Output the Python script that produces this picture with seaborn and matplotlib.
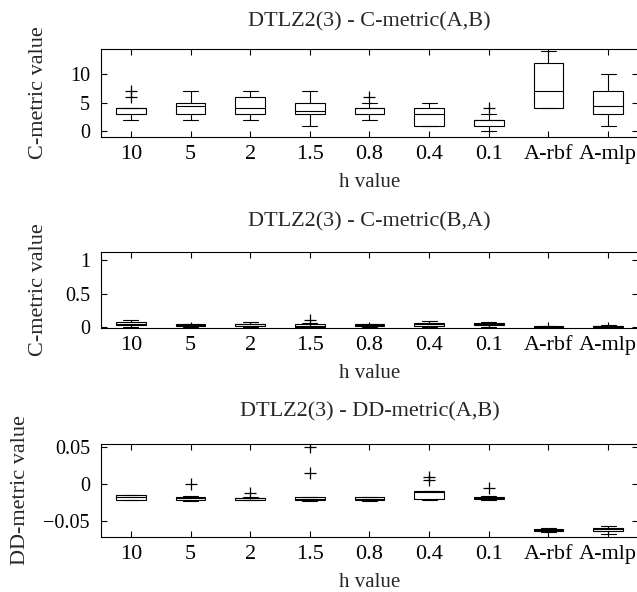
import numpy as np
import pandas as pd
import matplotlib
matplotlib.use("Agg")
import matplotlib.pyplot as plt
import seaborn as sns

# ---- data ----
h_labels = ["10", "5", "2", "1.5", "0.8", "0.4", "0.1", "A-rbf", "A-mlp"]

# Panel 1: C-metric(A,B)
cab_lo  = [2, 2, 2, 1, 2, 1, 0, 4, 1]
cab_q1  = [3, 3, 3, 3, 3, 1, 1, 4, 3]
cab_med = [4, 4.5, 4, 3.5, 4, 3, 2, 7, 4.5]
cab_q3  = [4, 5, 6, 5, 4, 4, 2, 12, 7]
cab_hi  = [4, 7, 7, 7, 5, 5, 3, 14, 10]
cab_out = [[6, 7], [], [], [], [6], [], [4], [], []]

# Panel 2: C-metric(B,A)
cba_lo  = [0, 0, 0, 0, 0, 0, 0, 0, 0]
cba_q1  = [0.03, 0.02, 0.02, 0.0, 0.01, 0.02, 0.03, 0.0, 0.0]
cba_med = [0.05, 0.03, 0.04, 0.02, 0.03, 0.04, 0.05, 0.005, 0.01]
cba_q3  = [0.07, 0.04, 0.05, 0.04, 0.04, 0.06, 0.06, 0.01, 0.02]
cba_hi  = [0.10, 0.05, 0.07, 0.06, 0.05, 0.09, 0.07, 0.02, 0.03]
cba_out = [[], [], [], [0.11], [], [], [], [], []]

# Panel 3: DD-metric(A,B)
dd_lo  = [-0.021, -0.023, -0.022, -0.023, -0.023, -0.021, -0.021, -0.065, -0.067]
dd_q1  = [-0.021, -0.022, -0.021, -0.022, -0.022, -0.020, -0.0205, -0.064, -0.063]
dd_med = [-0.018, -0.019, -0.019, -0.020, -0.020, -0.011, -0.019, -0.062, -0.061]
dd_q3  = [-0.015, -0.0175, -0.0185, -0.018, -0.018, -0.010, -0.0175, -0.061, -0.059]
dd_hi  = [-0.015, -0.016, -0.017, -0.017, -0.017, -0.010, -0.016, -0.060, -0.057]
dd_out = [[], [0.0], [-0.012], [0.015, 0.05], [], [0.006, 0.009], [-0.006], [], []]


def build_frame(lo, q1, med, q3, hi, outs):
    rows = []
    for cat, a, b, c, d, e, o in zip(h_labels, lo, q1, med, q3, hi, outs):
        vals = [a] + [b] * 10 + [c] * 10 + [d] * 10 + [e] + list(o)
        rows += [(cat, v) for v in vals]
    return pd.DataFrame(rows, columns=["h", "value"])


panels = [
    dict(df=build_frame(cab_lo, cab_q1, cab_med, cab_q3, cab_hi, cab_out),
         title="DTLZ2(3) - C-metric(A,B)", ylabel="C-metric value",
         ylim=(-1.0, 14.4), yticks=[0, 5, 10], yticklabels=["0", "5", "10"],
         box=(101, 49, 638, 137), tpad=16.5, ylx=48),
    dict(df=build_frame(cba_lo, cba_q1, cba_med, cba_q3, cba_hi, cba_out),
         title="DTLZ2(3) - C-metric(B,A)", ylabel="C-metric value",
         ylim=(-0.015, 1.12), yticks=[0, 0.5, 1], yticklabels=["0", "0.5", "1"],
         box=(101, 252, 638, 328), tpad=18.5, ylx=48),
    dict(df=build_frame(dd_lo, dd_q1, dd_med, dd_q3, dd_hi, dd_out),
         title="DTLZ2(3) - DD-metric(A,B)", ylabel="DD-metric value",
         ylim=(-0.0716, 0.054), yticks=[-0.05, 0, 0.05],
         yticklabels=["\u22120.05", "0", "0.05"],
         box=(101, 444, 638, 537), tpad=20, ylx=30),
]

sns.set_style("white")
plt.rcParams["font.family"] = ["Liberation Serif", "DejaVu Serif"]

W, H = 637, 592
fig = plt.figure(figsize=(W / 100, H / 100), dpi=100)

for p in panels:
    x0, y0, x1, y1 = p["box"]
    ax = fig.add_axes([x0 / W, 1 - y1 / H, (x1 - x0) / W, (y1 - y0) / H])
    sns.boxplot(data=p["df"], x="h", y="value", order=h_labels, ax=ax,
                width=0.5, fill=True, color="white", linecolor="black",
                saturation=1, linewidth=0.8, whis=1.5,
                flierprops=dict(marker="+", markersize=8,
                                markeredgecolor="black", markeredgewidth=0.9))
    ax.set_xlim(-0.5, len(h_labels) - 0.5)
    ax.set_ylim(*p["ylim"])
    ax.set_yticks(p["yticks"])
    ax.set_yticklabels(p["yticklabels"])
    ax.set_xticks(range(len(h_labels)))
    ax.set_xticklabels(h_labels)
    ax.tick_params(direction="in", top=True, right=True, bottom=True, left=True,
                   length=4, width=0.8, colors="black")
    ax.tick_params(axis="x", labelsize=16, pad=6)
    ax.tick_params(axis="y", labelsize=14.5, pad=8)
    for s in ax.spines.values():
        s.set_color("black")
        s.set_linewidth(0.8)
    ax.set_xlabel("h value", fontsize=15, labelpad=6)
    ax.set_ylabel(p["ylabel"], fontsize=16)
    ax.yaxis.set_label_coords((p["ylx"] - x0) / (x1 - x0), 0.5)
    ax.set_title(p["title"], fontsize=16, pad=p["tpad"])

fig.savefig("out.png", dpi=100)
